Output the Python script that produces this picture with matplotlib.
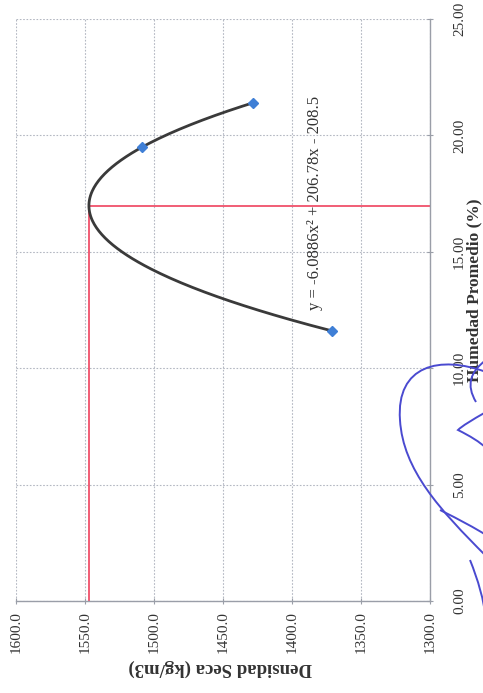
import numpy as np
import matplotlib
matplotlib.use("Agg")
import matplotlib.pyplot as plt
from matplotlib.path import Path
from matplotlib.patches import PathPatch

# Compaction test results: average moisture (%) vs dry density (kg/m3)
humedad = [11.6, 19.5, 21.4]
densidad = [1370.8, 1508.5, 1428.3]

# Quadratic trendline coefficients (density as a function of moisture)
coef = [-6.0886, 206.78, -208.5]
ecuacion = "y = -6.0886x\u00b2 + 206.78x - 208.5"

dens_ticks = [1600.0, 1550.0, 1500.0, 1450.0, 1400.0, 1350.0, 1300.0]
hum_ticks = [0.0, 5.0, 10.0, 15.0, 20.0, 25.0]

plt.rcParams["font.family"] = ["Liberation Serif", "DejaVu Serif"]

W, H = 483, 693
fig = plt.figure(figsize=(W / 100, H / 100), dpi=100)
fig.patch.set_facecolor("white")

ax = fig.add_axes([16 / W, 1 - 601 / H, (430 - 16) / W, (601 - 19) / H])
ax.set_xlim(1600, 1300)
ax.set_ylim(0, 25)

grid_col = "#b4b8c2"
ax.set_xticks(dens_ticks)
ax.set_yticks(hum_ticks)
ax.grid(True, color=grid_col, linestyle=(0, (1.5, 1.5)), linewidth=0.8)
ax.set_axisbelow(True)
for s in ("left", "top"):
    ax.spines[s].set_visible(False)
for s in ("right", "bottom"):
    ax.spines[s].set_color("#9a9ea8")
    ax.spines[s].set_linewidth(1.0)

ax.yaxis.tick_right()
ax.yaxis.set_label_position("right")
ax.tick_params(axis="both", direction="inout", length=5, color="#9a9ea8",
               labelsize=11, labelcolor="#333333")
ax.set_xticklabels([f"{v:.1f}" for v in dens_ticks], rotation=90)
ax.set_yticklabels([f"{v:.2f}" for v in hum_ticks], rotation=90, va="center")
ax.tick_params(axis="x", pad=5)
ax.tick_params(axis="y", pad=14)

# Trendline over the measured moisture range
h = np.linspace(min(humedad), max(humedad), 200)
ax.plot(np.polyval(coef, h), h, color="#3a3a3a", linewidth=2.0, zorder=3)

# Optimum moisture content / maximum dry density
h_opt = -coef[1] / (2 * coef[0])
d_max = np.polyval(coef, h_opt)
ax.plot([d_max, d_max], [0, h_opt], color="#f0506a", linewidth=1.3, zorder=2)
ax.plot([d_max, 1300], [h_opt, h_opt], color="#f0506a", linewidth=1.3, zorder=2)

ax.plot(densidad, humedad, linestyle="none", marker="D", markersize=5,
        color="#3f7fd6", zorder=4)

ax.text(1383, 17.1, ecuacion, rotation=90, ha="center", va="center",
        fontsize=12, color="#333333")

fig.text(220 / W, 1 - 668 / H, "Densidad Seca (kg/m3)", rotation=180,
         ha="center", va="center", fontsize=13.5, fontweight="bold",
         color="#333333")
fig.text(474 / W, 1 - 290 / H, "Humedad Promedio (%)", rotation=90,
         ha="center", va="center", fontsize=12.5, fontweight="bold",
         color="#333333")

# Ink signature over the lower right corner
def px(x, y):
    return (x / W, 1 - y / H)

sig_col = "#4a4ad0"
strokes = [
    [px(486, 372), px(440, 355), px(396, 365), px(400, 420),
     px(403, 470), px(440, 510), px(486, 556)],
    [px(440, 510), px(460, 520), px(475, 528), px(486, 535)],
    [px(486, 412), px(472, 420), px(462, 426), px(458, 430),
     px(470, 436), px(480, 442), px(486, 448)],
    [px(486, 360), px(470, 372), px(466, 385), px(476, 402)],
    [px(470, 560), px(478, 580), px(484, 600), px(486, 620)],
]
for pts in strokes:
    n = len(pts)
    codes = [Path.MOVETO] + [Path.CURVE4] * (n - 1)
    patch = PathPatch(Path(pts, codes), transform=fig.transFigure,
                      facecolor="none", edgecolor=sig_col, linewidth=1.4,
                      zorder=10)
    fig.add_artist(patch)

fig.savefig("out.png", dpi=100, facecolor="white")
